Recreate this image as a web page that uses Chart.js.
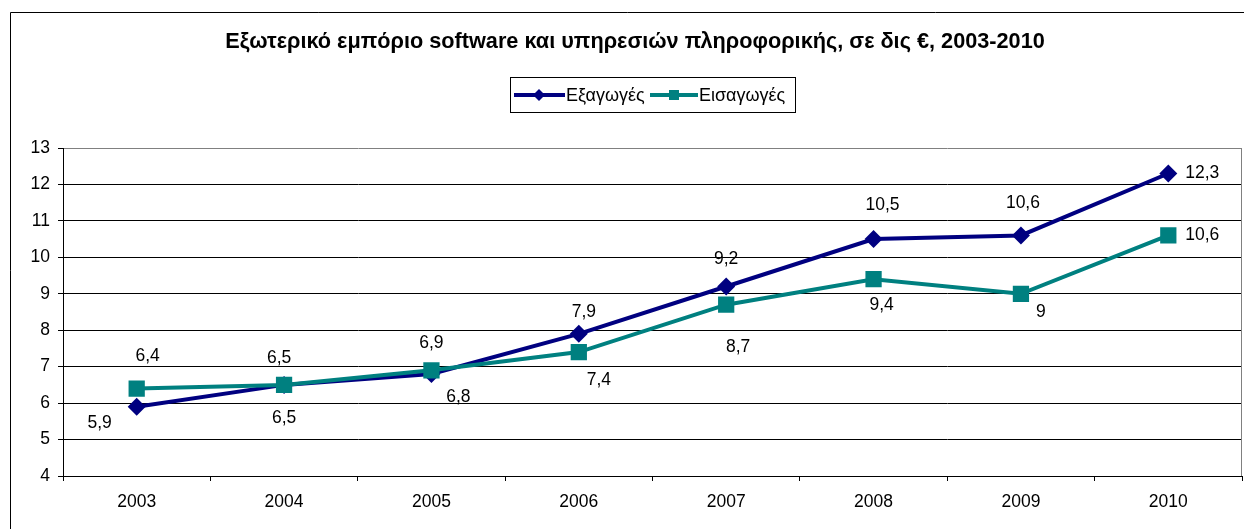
<!DOCTYPE html>
<html>
<head>
<meta charset="utf-8">
<script src="https://cdn.jsdelivr.net/npm/chart.js@4/dist/chart.umd.min.js"></script>
<style>
  html, body { margin: 0; padding: 0; background: #fff; overflow: hidden; }
  #wrap { position: absolute; left: 0; top: 0; width: 1244px; height: 529px; }
</style>
</head>
<body>
<div id="wrap"><canvas id="chart"></canvas></div>
<script>
// ── δεδομένα ──
const years        = ['2003', '2004', '2005', '2006', '2007', '2008', '2009', '2010'];
const exportsVals  = [5.9, 6.5, 6.8, 7.9, 9.2, 10.5, 10.6, 12.3];
const importsVals  = [6.4, 6.5, 6.9, 7.4, 8.7, 9.4, 9, 10.6];
const yMin = 4, yMax = 13, yStep = 1;

const TITLE = 'Εξωτερικό εμπόριο software και υπηρεσιών πληροφορικής, σε δις €, 2003-2010';
const NAVY = '#000080', TEAL = '#008080';
const FONT = '"Liberation Sans", Arial, sans-serif';

// θέσεις ετικετών τιμών (μετατόπιση σε px από το σημείο)
const exportsLabelPos = [[-37, 16], [0, 33], [27, 23], [5, -22], [0, -27], [9, -34], [2, -32], [34, 0]];
const importsLabelPos = [[11, -32], [-5, -27], [0, -27], [20, 28], [12, 42], [8, 26], [20, 18], [34, 0]];

const fmt = v => String(v).replace('.', ',');

// ── πλαίσιο, τίτλος, υπόμνημα ──
const decorPlugin = {
  id: 'decor',
  beforeDraw(chart) {
    const c = chart.ctx;
    c.save();
    c.strokeStyle = '#000'; c.lineWidth = 1;
    c.beginPath();
    c.moveTo(10.5, 529); c.lineTo(10.5, 12.5); c.lineTo(1244, 12.5);
    c.stroke();
    c.restore();
  },
  afterDraw(chart) {
    const c = chart.ctx;
    const a = chart.chartArea;
    c.save();
    // δεξί περίγραμμα περιοχής σχεδίασης
    c.strokeStyle = '#808080'; c.lineWidth = 1;
    c.beginPath();
    c.moveTo(Math.round(a.right) - 0.5, a.top); c.lineTo(Math.round(a.right) - 0.5, a.bottom);
    c.stroke();

    // τίτλος
    c.fillStyle = '#000';
    c.font = 'bold 21.7px ' + FONT;
    c.textAlign = 'center'; c.textBaseline = 'middle';
    c.fillText(TITLE, 635, 42);

    // υπόμνημα
    c.strokeStyle = '#000'; c.lineWidth = 1;
    c.strokeRect(510.5, 77.5, 285, 35);
    const ly = 95;
    c.font = '18px ' + FONT;
    c.textAlign = 'left';
    // Εξαγωγές
    c.strokeStyle = NAVY; c.lineWidth = 4;
    c.beginPath(); c.moveTo(514, ly); c.lineTo(565, ly); c.stroke();
    c.fillStyle = NAVY;
    c.beginPath(); c.moveTo(539, ly - 6); c.lineTo(545, ly); c.lineTo(539, ly + 6); c.lineTo(533, ly); c.closePath(); c.fill();
    c.fillStyle = '#000';
    c.fillText('Εξαγωγές', 566, ly + 1);
    // Εισαγωγές
    c.strokeStyle = TEAL;
    c.beginPath(); c.moveTo(650, ly); c.lineTo(698, ly); c.stroke();
    c.fillStyle = TEAL;
    c.fillRect(669, ly - 5, 10, 10);
    c.fillStyle = '#000';
    c.fillText('Εισαγωγές', 699, ly + 1);
    c.restore();
  }
};

// ── ετικέτες τιμών ──
const valueLabels = {
  id: 'valueLabels',
  afterDatasetsDraw(chart) {
    const c = chart.ctx;
    c.save();
    c.font = '17.5px ' + FONT;
    c.fillStyle = '#000';
    c.textAlign = 'center'; c.textBaseline = 'middle';
    const posSets = [exportsLabelPos, importsLabelPos];
    chart.data.datasets.forEach((ds, di) => {
      const meta = chart.getDatasetMeta(di);
      meta.data.forEach((pt, i) => {
        const off = posSets[di][i];
        c.fillText(fmt(ds.data[i]), pt.x + off[0], pt.y + off[1]);
      });
    });
    c.restore();
  }
};

new Chart(document.getElementById('chart'), {
  type: 'line',
  data: {
    labels: years,
    datasets: [
      {
        label: 'Εξαγωγές', data: exportsVals, order: 2,
        borderColor: NAVY, backgroundColor: NAVY, borderWidth: 4,
        pointStyle: 'rectRot', pointRadius: 9, pointHoverRadius: 9,
        pointBackgroundColor: NAVY, pointBorderColor: NAVY, pointBorderWidth: 0, tension: 0
      },
      {
        label: 'Εισαγωγές', data: importsVals, order: 1,
        borderColor: TEAL, backgroundColor: TEAL, borderWidth: 4,
        pointStyle: 'rect', pointRadius: 11.5, pointHoverRadius: 11.5,
        pointBackgroundColor: TEAL, pointBorderColor: TEAL, pointBorderWidth: 0, tension: 0
      }
    ]
  },
  options: {
    responsive: true, maintainAspectRatio: false, animation: false,
    layout: { autoPadding: false, padding: { left: 10, top: 148, right: 2, bottom: 0 } },
    plugins: { legend: { display: false }, title: { display: false }, tooltip: { enabled: false } },
    scales: {
      x: {
        offset: true,
        grid: { offset: true, drawOnChartArea: false, drawTicks: true, tickLength: 5, color: '#000' },
        border: { display: true, color: '#000', width: 1 },
        ticks: { color: '#000', font: { family: FONT, size: 17.5 }, padding: 11, maxRotation: 0 },
        afterFit(scale) { scale.height = 53; }
      },
      y: {
        min: yMin, max: yMax,
        grid: {
          color: ctx => (ctx.tick && ctx.tick.value === yMax) ? '#808080' : '#000',
          tickColor: '#000', tickLength: 5, lineWidth: 1
        },
        border: { display: true, color: '#000', width: 1 },
        ticks: { stepSize: yStep, color: '#000', font: { family: FONT, size: 17.5 }, padding: 8 },
        afterFit(scale) { scale.width = 53; }
      }
    }
  },
  plugins: [decorPlugin, valueLabels]
});
</script>
</body>
</html>
